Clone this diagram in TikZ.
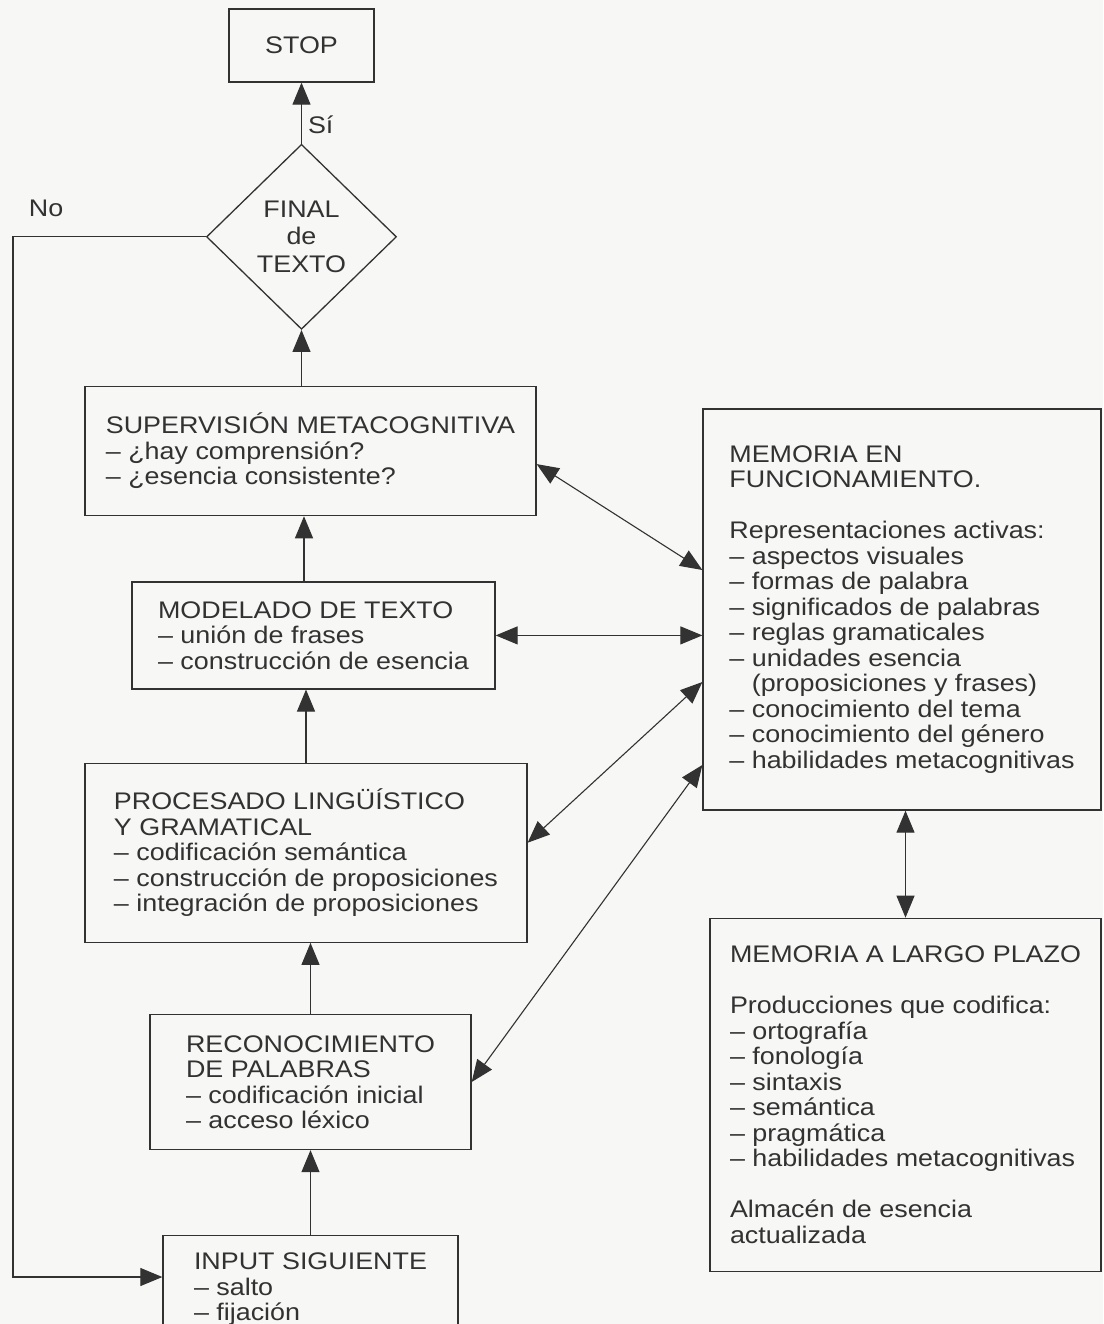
\documentclass[tikz,border=0pt]{standalone}
\usepackage{fontspec}
\setmainfont{Liberation Sans}[FakeStretch=1.12]
\usetikzlibrary{arrows.meta, positioning, shapes.geometric}
\definecolor{ink}{RGB}{50,50,50}
\definecolor{paper}{RGB}{247,247,245}

\begin{document}
\begin{tikzpicture}[
    x=1pt, y=-1pt,
    font=\fontsize{24}{25.5}\selectfont,
    box/.style={draw=ink, text=ink, line width=1.3pt, rectangle, align=left, inner sep=0pt},
    decision/.style={draw=ink, text=ink, line width=1.3pt, diamond, align=center, inner sep=0pt,
        minimum width=190pt, minimum height=185pt, font=\fontsize{24}{27.5}\selectfont},
    lbl/.style={text=ink, inner sep=0pt},
    arrow/.style={draw=ink, line width=1.1pt, -{Triangle[length=22pt, width=18pt]}},
    both/.style={draw=ink, line width=1.1pt, {Triangle[length=22pt, width=18pt]}-{Triangle[length=22pt, width=18pt]}}
]

\clip (0,0) rectangle (1103,1324);
\fill[paper] (0,0) rectangle (1103,1324);

\node[box, minimum width=145pt, minimum height=73pt] (stop) at (301.5,45.5) {STOP};

\node[decision, below=61pt of stop] (final) {FINAL\\de\\TEXTO};

\node[box, below=56pt of final, xshift=9pt, minimum width=451pt, minimum height=129pt] (sup)
{SUPERVISIÓN METACOGNITIVA\\– ¿hay comprensión?\\– ¿esencia consistente?};

\node[box, below=65pt of sup, xshift=3pt, minimum width=363pt, minimum height=107pt] (mod)
{MODELADO DE TEXTO\\– unión de frases\\– construcción de esencia};

\node[box, below=73pt of mod, xshift=-7.5pt, minimum width=442pt, minimum height=179pt] (proc)
{PROCESADO LINGÜÍSTICO\\Y GRAMATICAL\\– codificación semántica\\– construcción de proposiciones\\– integración de proposiciones};

\node[box, below=71pt of proc, xshift=4.5pt, minimum width=321pt, minimum height=135pt] (rec)
{RECONOCIMIENTO\\DE PALABRAS\\– codificación inicial\\– acceso léxico};

\node[box, below=85pt of rec, minimum width=295pt, minimum height=107pt] (input)
{INPUT SIGUIENTE\\– salto\\– fijación};

\node[box, minimum width=398pt, minimum height=401pt] (mem) at (902,609.5)
{MEMORIA EN\\FUNCIONAMIENTO.\\[25.5pt]Representaciones activas:\\– aspectos visuales\\– formas de palabra\\– significados de palabras\\– reglas gramaticales\\– unidades esencia\\\phantom{– }(proposiciones y frases)\\– conocimiento del tema\\– conocimiento del género\\– habilidades metacognitivas};

\node[box, below=107pt of mem, xshift=3.5pt, minimum width=391pt, minimum height=353pt] (largo)
{MEMORIA A LARGO PLAZO\\[25.5pt]Producciones que codifica:\\– ortografía\\– fonología\\– sintaxis\\– semántica\\– pragmática\\– habilidades metacognitivas\\[25.5pt]Almacén de esencia\\actualizada};

\coordinate (modtop) at ([xshift=-9.5pt]mod.north);
\coordinate (back) at (13,1277);

\draw[arrow] (final) -- (stop) node[lbl, pos=0.31, right=6pt] {Sí};
\draw[arrow] (sup.north -| final.south) -- (final.south);
\draw[arrow] (modtop) -- (modtop |- sup.south);
\draw[arrow] (proc.north) -- (proc.north |- mod.south);
\draw[arrow] (rec.north) -- (rec.north |- proc.south);
\draw[arrow] (input.north) -- (input.north |- rec.south);
\draw[arrow] (final.west) -| (back) node[lbl, pos=0.414, above=20pt] {No} -- (back -| input.west);

\draw[both] ([yshift=-13pt]sup.east) -- ([yshift=39.5pt]mem.west);
\draw[both] (mod.east) -- (mod.east -| mem.west);
\draw[both] ([yshift=10pt]proc.east) -- ([yshift=-72.5pt]mem.west);
\draw[both] (rec.east) -- ([yshift=-155.5pt]mem.west);
\draw[both] (largo.north) -- (largo.north |- mem.south);

\end{tikzpicture}
\end{document}
